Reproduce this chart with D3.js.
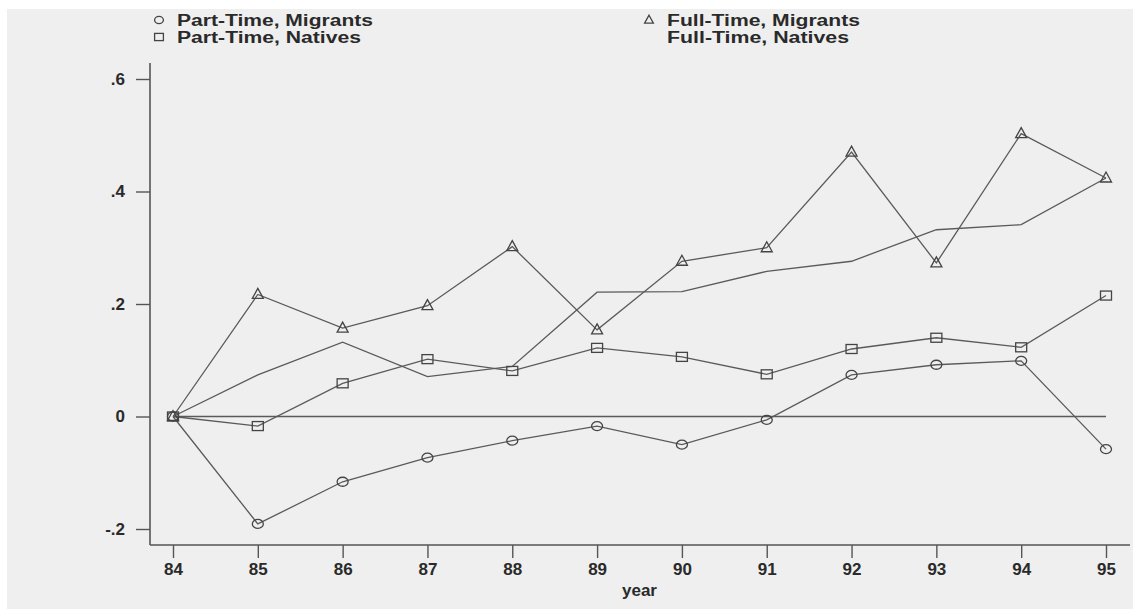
<!DOCTYPE html>
<html><head><meta charset="utf-8">
<script src="https://cdn.jsdelivr.net/npm/d3@7/dist/d3.min.js"></script>
<style>
html,body{margin:0;padding:0;background:#fff;}
svg{display:block;}
text{font-family:"Liberation Sans",Arial,sans-serif;font-weight:bold;fill:#2a2a2a;}
</style></head><body>
<script>
const years = ["84","85","86","87","88","89","90","91","92","93","94","95"];
const partTimeMigrants = [0, -0.191, -0.116, -0.073, -0.043, -0.017, -0.050, -0.006, 0.074, 0.092, 0.099, -0.058];
const partTimeNatives  = [0, -0.017, 0.059, 0.102, 0.081, 0.122, 0.106, 0.075, 0.120, 0.140, 0.123, 0.215];
const fullTimeMigrants = [0, 0.217, 0.157, 0.197, 0.302, 0.154, 0.276, 0.300, 0.470, 0.273, 0.503, 0.424];
const fullTimeNatives  = [0, 0.074, 0.132, 0.071, 0.089, 0.221, 0.222, 0.258, 0.276, 0.332, 0.341, 0.424];
const yTicks = [-0.2, 0, 0.2, 0.4, 0.6];
const yTickLabels = ["-.2", "0", ".2", ".4", ".6"];
const legendLabels = ["Part-Time, Migrants", "Part-Time, Natives", "Full-Time, Migrants", "Full-Time, Natives"];

const W = 1133, H = 609;
const FONT = '"Liberation Sans",Arial,sans-serif';
const svg = d3.select("body").append("svg").attr("width", W).attr("height", H);
svg.append("rect").attr("x", 7).attr("y", 9).attr("width", W - 7).attr("height", H - 9).attr("fill", "#efefef");

const x = d3.scalePoint().domain(years).range([173, 1106]);
const y = d3.scaleLinear().domain([-0.2, 0.6]).range([529, 79]);
const axisColor = "#555";
const lineColor = "#5a5a5a";

// axes lines
svg.append("line").attr("x1", 150).attr("x2", 150).attr("y1", 63).attr("y2", 545)
  .attr("stroke", axisColor).attr("stroke-width", 1.6);
svg.append("line").attr("x1", 150).attr("x2", 1130).attr("y1", 545).attr("y2", 545)
  .attr("stroke", axisColor).attr("stroke-width", 1.6);

// y axis
const yAxis = d3.axisLeft(y).tickValues(yTicks).tickSize(14).tickPadding(11)
  .tickFormat((d, i) => yTickLabels[i]);
const gy = svg.append("g").attr("transform", "translate(150,0)").call(yAxis);
gy.select(".domain").remove();
gy.selectAll(".tick line").attr("stroke", axisColor).attr("stroke-width", 1.4);
gy.selectAll(".tick text").style("font-size", "17px").style("font-family", FONT).style("font-weight", "bold").attr("fill", "#2a2a2a");

// x axis
const xAxis = d3.axisBottom(x).tickSize(13).tickPadding(5);
const gx = svg.append("g").attr("transform", "translate(0,545)").call(xAxis);
gx.select(".domain").remove();
gx.selectAll(".tick line").attr("stroke", axisColor).attr("stroke-width", 1.4);
gx.selectAll(".tick text").style("font-size", "17px").style("font-family", FONT).style("font-weight", "bold").attr("fill", "#2a2a2a");

svg.append("text").attr("x", x("89") + (x("90") - x("89")) / 2).attr("y", 596)
  .attr("text-anchor", "middle").style("font-size", "17px").text("year");

// zero line
svg.append("line").attr("x1", x("84")).attr("x2", x("95")).attr("y1", y(0)).attr("y2", y(0))
  .attr("stroke", lineColor).attr("stroke-width", 1.4);

const line = d3.line().x((d, i) => x(years[i])).y(d => y(d));
const series = [
  {vals: fullTimeNatives, marker: null},
  {vals: fullTimeMigrants, marker: "tri"},
  {vals: partTimeNatives, marker: "sq"},
  {vals: partTimeMigrants, marker: "circ"}
];
series.forEach(s => {
  svg.append("path").datum(s.vals).attr("d", line).attr("fill", "none")
    .attr("stroke", lineColor).attr("stroke-width", 1.3);
});

function drawMarker(g, type, cx, cy, sc) {
  sc = sc || 1;
  const st = {fill: "none", stroke: "#444", sw: 1.3};
  if (type === "circ") {
    g.append("ellipse").attr("cx", cx).attr("cy", cy).attr("rx", 5.5 * sc).attr("ry", 4.5 * sc)
      .attr("fill", st.fill).attr("stroke", st.stroke).attr("stroke-width", st.sw);
  } else if (type === "sq") {
    g.append("rect").attr("x", cx - 5.5 * sc).attr("y", cy - 4.5 * sc).attr("width", 11 * sc).attr("height", 9 * sc)
      .attr("fill", st.fill).attr("stroke", st.stroke).attr("stroke-width", st.sw);
  } else if (type === "tri") {
    g.append("path").attr("d", `M${cx},${cy - 6 * sc}L${cx + 5.5 * sc},${cy + 4 * sc}L${cx - 5.5 * sc},${cy + 4 * sc}Z`)
      .attr("fill", st.fill).attr("stroke", st.stroke).attr("stroke-width", st.sw);
  }
}
const gm = svg.append("g");
series.forEach(s => {
  if (!s.marker) return;
  s.vals.forEach((v, i) => drawMarker(gm, s.marker, x(years[i]), y(v)));
});

// legend
const legend = [
  {label: legendLabels[0], marker: "circ", lx: 159, ly: 20, len: 196},
  {label: legendLabels[1], marker: "sq", lx: 159, ly: 37, len: 184},
  {label: legendLabels[2], marker: "tri", lx: 649, ly: 20, len: 193},
  {label: legendLabels[3], marker: null, lx: 649, ly: 37, len: 182}
];
const gl = svg.append("g");
legend.forEach(d => {
  if (d.marker) drawMarker(gl, d.marker, d.lx, d.ly, 0.8);
  gl.append("text").attr("x", d.lx + 18).attr("y", d.ly + 6).style("font-size", "16px")
    .attr("textLength", d.len).attr("lengthAdjust", "spacingAndGlyphs").text(d.label);
});
</script>
</body></html>
